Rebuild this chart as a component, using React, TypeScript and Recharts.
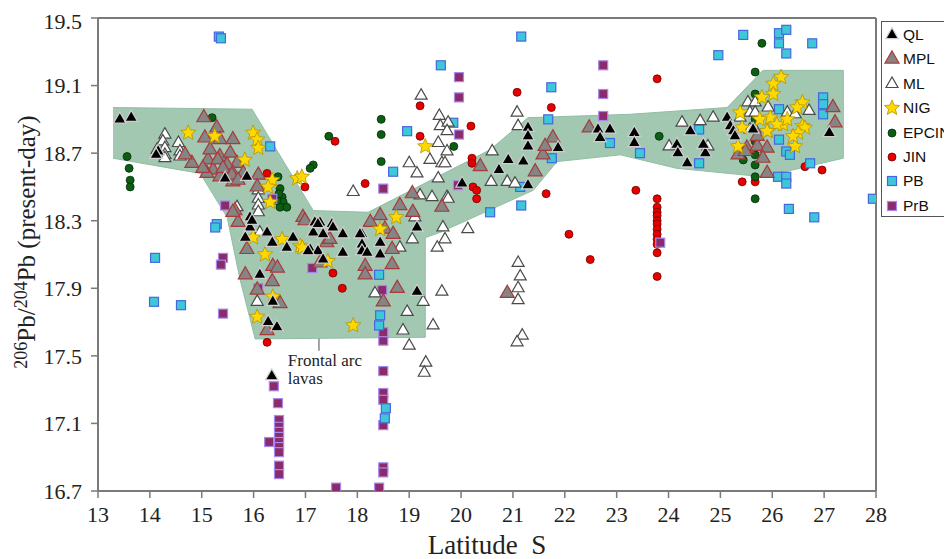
import React from 'react';
import { ScatterChart, Scatter, XAxis, YAxis, ReferenceLine, ReferenceDot } from 'recharts';

// axis ticks
const latTicks = [13, 14, 15, 16, 17, 18, 19, 20, 21, 22, 23, 24, 25, 26, 27, 28];
const pbTicks = [16.7, 17.1, 17.5, 17.9, 18.3, 18.7, 19.1, 19.5];

// outline of the frontal arc lavas field [lat, 206Pb/204Pb]
const frontalArcField = [
  [13.29, 18.97], [15.97, 18.96], [17.15, 18.36], [18.21, 18.35], [20.56, 18.72], [21.29, 18.91],
  [23.26, 18.93], [25.13, 18.97], [25.82, 19.19], [27.37, 19.19], [27.37, 18.67], [25.82, 18.56],
  [24.16, 18.61], [23.07, 18.69], [21.85, 18.65], [21.39, 18.48], [19.59, 18.23], [19.31, 18.2],
  [19.31, 17.61], [16.03, 17.6], [15.74, 17.95], [15.49, 18.32], [14.97, 18.58], [13.29, 18.67],
];

const qlData = [
  [13.42, 18.9], [13.64, 18.91], [14.16, 18.71], [14.12, 18.69],
  [15.45, 18.55], [15.87, 18.56], [15.93, 18.32], [15.93, 18.26], [15.84, 18.2], [16.36, 18.17], [16.76, 18.2],
  [17.18, 18.29], [17.15, 18.23], [17.34, 18.22], [15.97, 18.3], [16.26, 18.23], [16.64, 18.14], [16.12, 17.98],
  [16.28, 17.7], [16.45, 17.67], [16.37, 17.82], [16.35, 17.38],
  [17.28, 18.29], [17.51, 18.28], [17.72, 18.22], [17.09, 18.13], [17.24, 18.12], [17.72, 18.11], [17.34, 18.07],
  [18.09, 18.22], [18.09, 18.16], [18.09, 18.12], [18.19, 18.11], [18.44, 18.1], [18.44, 18.17], [18.05, 18.22],
  [19.15, 18.26], [19.15, 17.88], [17.05, 18.12], [17.24, 18.28], [17.53, 18.26],
  [20.02, 18.52], [20.73, 18.6], [20.91, 18.66], [21.29, 18.85], [21.29, 18.74], [21.2, 18.65], [21.29, 18.51],
  [21.87, 18.73], [22.64, 18.84], [22.87, 18.84], [22.68, 18.79], [21.29, 18.8],
  [23.34, 18.82], [23.34, 18.76], [24.42, 18.83], [24.16, 18.75], [24.18, 18.7], [24.36, 18.64], [24.71, 18.7],
  [24.67, 18.75], [25.13, 18.91], [25.19, 18.86], [25.25, 18.83], [25.28, 18.8], [27.1, 18.82], [25.63, 18.84],
];

const mplData = [
  [15.04, 18.91], [15.29, 18.85], [15.35, 18.78], [15.6, 18.78], [15.06, 18.79], [14.81, 18.64], [14.68, 18.69],
  [15.12, 18.66], [15.35, 18.68], [15.55, 18.7], [15.68, 18.64], [15.49, 18.63], [15.22, 18.6], [15.6, 18.58],
  [15.8, 18.58], [15.1, 18.58], [15.35, 18.56], [15.6, 18.53], [16.09, 18.57], [16.07, 18.5], [15.16, 18.72],
  [15.31, 18.66], [15.02, 18.61], [15.41, 18.61], [15.58, 18.57], [15.7, 18.54], [15.64, 18.36], [15.7, 18.29],
  [16.95, 18.32], [15.6, 18.35], [15.87, 18.13], [15.84, 17.98], [16.37, 18.03], [16.46, 18.02], [16.36, 17.94],
  [16.07, 17.89], [16.26, 17.65], [16.51, 17.81], [16.99, 18.3], [17.41, 18.17], [17.47, 18.19], [17.28, 18.05],
  [19.06, 18.46], [19.63, 18.38], [18.82, 18.39], [19.07, 18.35], [18.44, 18.33], [18.25, 18.29], [18.53, 18.25],
  [18.69, 18.22], [18.67, 18.13], [18.67, 18.04], [18.77, 17.9], [18.5, 17.82], [18.15, 18.03], [18.15, 17.98],
  [20.37, 18.62], [21.43, 18.59], [21.58, 18.69], [21.77, 18.79], [21.62, 18.74], [22.47, 18.85], [20.89, 17.87],
  [27.17, 18.97], [27.21, 18.88], [25.51, 18.73], [25.71, 18.74], [25.9, 18.73], [25.34, 18.69], [25.48, 18.71],
  [25.82, 18.67], [25.9, 18.58], [25.71, 18.8],
];

const mlData = [
  [14.29, 18.81], [14.25, 18.77], [14.29, 18.73], [14.29, 18.69], [14.55, 18.76], [14.58, 18.71], [14.58, 18.68],
  [14.14, 18.72], [14.29, 18.67],
  [16.09, 18.48], [16.09, 18.43], [16.09, 18.39], [15.68, 18.38], [16.09, 18.35], [16.12, 18.23], [16.07, 17.82],
  [17.92, 18.47], [19.21, 18.45], [19.44, 18.44], [19.73, 18.44], [20.13, 18.25], [19.65, 18.26], [19.69, 18.19],
  [19.54, 18.14], [19.11, 18.32], [19.06, 18.19], [18.82, 18.14], [19.63, 17.88], [19.27, 17.82], [18.96, 17.76],
  [18.34, 17.87], [18.88, 17.65], [19.46, 17.68], [19.0, 17.56], [19.32, 17.46], [19.29, 17.4],
  [19.0, 18.64], [19.15, 18.58], [19.4, 18.66], [19.63, 18.64], [19.56, 18.55], [19.75, 18.43],
  [19.23, 19.04], [19.58, 18.92], [19.6, 18.86], [19.75, 18.88], [19.73, 18.83], [19.56, 18.76], [19.73, 18.71],
  [19.69, 18.64],
  [21.08, 18.94], [21.1, 18.86], [20.6, 18.71], [20.58, 18.53], [20.89, 18.53], [21.04, 18.52], [21.1, 18.05],
  [21.14, 17.97], [21.1, 17.9], [21.1, 17.83], [21.18, 17.62], [21.08, 17.58],
  [24.26, 18.88], [24.61, 18.89], [24.86, 18.91], [24.01, 18.74], [24.76, 18.74], [25.53, 19.0], [25.67, 19.0],
  [25.57, 18.94], [25.67, 18.94], [25.38, 18.91], [25.92, 18.97], [26.29, 18.94], [26.44, 18.93], [26.71, 18.95],
  [25.57, 18.84], [25.67, 18.84],
];

const nigData = [
  [14.74, 18.82], [15.99, 18.82], [16.07, 18.78], [16.09, 18.73], [15.83, 18.66], [16.36, 18.54], [16.28, 18.5],
  [16.84, 18.55], [16.32, 18.41], [15.99, 18.2], [16.55, 18.19], [16.22, 18.1], [16.9, 18.15], [16.37, 17.85],
  [16.07, 17.73], [17.92, 17.68], [15.25, 18.8],
  [18.75, 18.32], [18.44, 18.25], [16.94, 18.14], [17.43, 18.06], [19.31, 18.74], [16.93, 18.56],
  [26.17, 19.15], [26.02, 19.11], [26.02, 19.05], [25.8, 19.03], [26.58, 19.0], [26.48, 18.97], [25.96, 18.91],
  [26.21, 18.87], [26.09, 18.87], [26.29, 18.9], [25.92, 18.83], [25.76, 18.9], [26.58, 18.86], [26.63, 18.85],
  [26.5, 18.82], [26.44, 18.74], [25.42, 18.85], [25.34, 18.74], [25.38, 18.94], [25.9, 18.83], [26.4, 18.8],
];

const epcinData = [
  [13.56, 18.68], [13.6, 18.61], [13.62, 18.54], [13.62, 18.5], [15.2, 18.91], [16.47, 18.56], [16.51, 18.49],
  [16.55, 18.44], [16.57, 18.41], [16.51, 18.38], [16.64, 18.38], [16.45, 18.42], [16.49, 18.46], [17.15, 18.63],
  [17.09, 18.61], [17.45, 18.8], [18.46, 18.9], [18.46, 18.81], [18.46, 18.65], [19.86, 18.74],
  [25.8, 19.35], [25.67, 19.18], [25.67, 19.05], [25.67, 18.9], [25.67, 18.77], [25.67, 18.69], [25.67, 18.56],
  [25.67, 18.43], [23.82, 18.8], [25.44, 18.66], [25.67, 18.63],
];

const jinData = [
  [16.26, 18.58], [16.99, 18.5], [17.57, 18.77], [18.15, 18.52], [17.53, 17.99], [17.71, 17.9], [16.26, 17.58],
  [19.21, 18.98], [19.21, 18.8], [20.19, 18.86], [21.08, 19.06], [21.74, 18.97], [20.21, 18.67], [20.21, 18.64],
  [20.23, 18.5], [20.3, 18.48], [20.3, 18.43], [21.64, 18.46], [22.08, 18.22], [22.49, 18.07], [23.37, 18.48],
  [23.78, 19.14], [23.78, 18.43], [23.78, 18.38], [23.78, 18.35], [23.78, 18.33], [23.78, 18.3], [23.78, 18.28],
  [23.78, 18.25], [23.78, 18.22], [23.78, 18.19], [23.78, 18.16], [23.78, 18.11], [23.78, 17.97],
  [25.42, 18.53], [25.67, 18.53], [26.63, 18.62], [26.96, 18.6],
];

const pbData = [
  [15.33, 19.39], [15.37, 19.38], [14.1, 18.08], [14.08, 17.82], [14.6, 17.8], [15.29, 18.28], [15.26, 18.26],
  [16.32, 18.74], [18.42, 17.98], [18.44, 17.74], [18.42, 17.68], [18.55, 17.19], [18.53, 17.13],
  [21.16, 19.39], [19.61, 19.22], [19.85, 18.88], [18.96, 18.83], [18.69, 18.59], [21.74, 19.09], [21.68, 18.9],
  [20.56, 18.35], [21.16, 18.39], [21.14, 18.5], [22.87, 18.76], [21.75, 18.67],
  [25.44, 19.4], [24.96, 19.28], [26.13, 19.41], [26.27, 19.43], [26.13, 19.35], [26.27, 19.29], [26.77, 19.35],
  [26.98, 19.03], [26.98, 18.99], [26.98, 18.93], [26.13, 18.96], [26.13, 18.78], [26.27, 18.71], [26.34, 18.69],
  [24.59, 18.84], [24.59, 18.64], [23.45, 18.7], [26.73, 18.64], [26.11, 18.56], [26.27, 18.56], [26.27, 18.52],
  [26.32, 18.37], [26.81, 18.32], [27.94, 18.43],
];

const prbData = [
  [15.45, 18.39], [16.36, 18.43], [15.41, 18.08], [15.37, 18.04], [15.41, 17.75], [16.09, 17.9], [17.13, 18.02],
  [16.39, 17.32], [16.47, 17.22], [16.49, 17.12], [16.49, 17.08], [16.49, 17.05], [16.49, 17.02], [16.49, 16.99],
  [16.49, 16.96], [16.49, 16.93], [16.49, 16.85], [16.49, 16.8], [16.3, 16.99],
  [18.5, 17.59], [18.5, 17.41], [18.5, 17.28], [18.5, 17.24], [18.5, 17.09], [18.5, 16.84], [18.5, 16.81],
  [17.59, 16.72], [18.42, 16.72], [18.48, 17.89], [18.5, 17.64], [18.5, 18.49],
  [19.96, 19.15], [19.96, 19.03], [19.96, 18.81], [22.74, 19.22], [22.74, 19.05], [22.74, 18.92], [19.94, 18.51],
  [23.84, 18.17],
];

const toPts = (arr: number[][]) => arr.map(([x, y]) => ({ x, y }));

const styles: Record<string, any> = {
  QL: { shape: 'tri', fill: '#000000', stroke: '#cfcfcf', size: 12.5 },
  MPL: { shape: 'tri', fill: '#858585', stroke: '#a83a3a', size: 14 },
  ML: { shape: 'tri', fill: '#ffffff', stroke: '#4a4a4a', size: 12 },
  NIG: { shape: 'star', fill: '#ffd800', stroke: '#b39400', size: 8 },
  EPCIN: { shape: 'circle', fill: '#0b5e14', stroke: '#062c08', size: 4 },
  JIN: { shape: 'circle', fill: '#e80000', stroke: '#6e0000', size: 4 },
  PB: { shape: 'square', fill: '#3ec7d8', stroke: '#4766dd', size: 9 },
  PrB: { shape: 'square', fill: '#8a2b6c', stroke: '#a887ee', size: 9 },
};

const Marker = ({ kind, cx, cy }: any) => {
  const s = styles[kind];
  if (cx == null || cy == null) return <g />;
  if (s.shape === 'tri') {
    const w = s.size;
    const h = w * 0.87;
    const pts = `${cx},${cy - (h * 2) / 3} ${cx - w / 2},${cy + h / 3} ${cx + w / 2},${cy + h / 3}`;
    return <polygon points={pts} fill={s.fill} stroke={s.stroke} strokeWidth={1.2} />;
  }
  if (s.shape === 'star') {
    const R = s.size;
    const r = R * 0.45;
    const pts: string[] = [];
    for (let i = 0; i < 10; i++) {
      const a = -Math.PI / 2 + (i * Math.PI) / 5;
      const rad = i % 2 === 0 ? R : r;
      pts.push(`${cx + rad * Math.cos(a)},${cy + rad * Math.sin(a)}`);
    }
    return <polygon points={pts.join(' ')} fill={s.fill} stroke={s.stroke} strokeWidth={0.8} />;
  }
  if (s.shape === 'circle') {
    return <circle cx={cx} cy={cy} r={s.size} fill={s.fill} stroke={s.stroke} strokeWidth={0.8} />;
  }
  const h = s.size / 2;
  return <rect x={cx - h} y={cy - h} width={s.size} height={s.size} fill={s.fill} stroke={s.stroke} strokeWidth={1.2} />;
};

const series = [
  { name: 'JIN', data: jinData },
  { name: 'EPCIN', data: epcinData },
  { name: 'PrB', data: prbData },
  { name: 'PB', data: pbData },
  { name: 'ML', data: mlData },
  { name: 'MPL', data: mplData },
  { name: 'NIG', data: nigData },
  { name: 'QL', data: qlData },
];

const legendOrder = ['QL', 'MPL', 'ML', 'NIG', 'EPCIN', 'JIN', 'PB', 'PrB'];

const serif = '"Liberation Serif", "Times New Roman", serif';

const YLabel = () => (
  <text transform="translate(27,234) rotate(-90)" textAnchor="middle" fontFamily={serif} fontSize={25} fill="#222">
    <tspan fontSize={18} dy={-8}>206</tspan>
    <tspan dy={8}>Pb/</tspan>
    <tspan fontSize={18} dy={-8}>204</tspan>
    <tspan dy={8}>Pb (present-day)</tspan>
  </text>
);

// two separate lines so they do not share one box
const AnnotationText = ({ cx, cy }: any) => (
  <g fontFamily={serif} fontSize={17} fill="#222">
    <text x={cx} y={cy}>Frontal arc</text>
    <text x={cx} y={cy + 18}>lavas</text>
  </g>
);

const App = () => {
  const axisStroke = '#7a7a7a';
  return (
    <div style={{ position: 'relative', width: 944, height: 551, overflow: 'hidden', background: '#fff' }}>
      <ScatterChart width={944} height={551} margin={{ top: 10, right: 76, bottom: 0, left: 0 }}>
        <XAxis
          type="number"
          dataKey="x"
          domain={[13, 28]}
          ticks={latTicks}
          allowDataOverflow
          height={68}
          tickSize={7}
          tickMargin={8}
          axisLine={{ stroke: axisStroke, strokeWidth: 2 }}
          tickLine={{ stroke: axisStroke, strokeWidth: 1.5 }}
          tick={{ fontFamily: serif, fontSize: 22, fill: '#222' }}
          label={{ value: 'Latitude\u00a0\u00a0S', position: 'insideBottom', offset: 5, fontFamily: serif, fontSize: 27, fill: '#222' }}
        />
        <YAxis
          type="number"
          dataKey="y"
          domain={[16.7, 19.5]}
          ticks={pbTicks}
          allowDataOverflow
          width={90}
          tickSize={7}
          tickMargin={9}
          tickFormatter={(v: number) => v.toFixed(1)}
          axisLine={{ stroke: axisStroke, strokeWidth: 2 }}
          tickLine={{ stroke: axisStroke, strokeWidth: 1.5 }}
          tick={{ fontFamily: serif, fontSize: 22, fill: '#222' }}
          label={{ content: () => <YLabel /> }}
        />
        <ReferenceLine y={19.5} stroke={axisStroke} strokeWidth={2} />
        <ReferenceLine x={28} stroke={axisStroke} strokeWidth={2} />
        <Scatter
          name="field"
          data={toPts(frontalArcField)}
          isAnimationActive={false}
          line={{ fill: '#a2c8b2', stroke: '#90bea3', strokeWidth: 1 }}
          lineType="joint"
          shape={() => <g />}
          fill="#a2c8b2"
        />
        <ReferenceLine
          segment={[{ x: 17.26, y: 17.76 }, { x: 17.26, y: 17.53 }]}
          stroke="#666"
          strokeWidth={1.2}
        />
        <ReferenceDot x={16.66} y={17.44} r={0} shape={(p: any) => <AnnotationText {...p} />} />
        {series.map((s) => (
          <Scatter
            key={s.name}
            name={s.name}
            data={toPts(s.data)}
            isAnimationActive={false}
            shape={(p: any) => <Marker kind={s.name} cx={p.cx} cy={p.cy} />}
          />
        ))}
      </ScatterChart>
      <div
        style={{
          position: 'absolute',
          left: 873,
          top: 13,
          width: 84,
          height: 196,
          border: '1.5px solid #555',
          boxSizing: 'border-box',
          background: '#fff',
          fontFamily: '"Liberation Sans", Arial, sans-serif',
          fontSize: 15.5,
          color: '#111',
        }}
      >
        {legendOrder.map((k, i) => (
          <div key={k} style={{ position: 'absolute', left: 0, top: 1 + i * 24.4, height: 24, display: 'flex', alignItems: 'center' }}>
            <svg width={20} height={20} style={{ marginLeft: 0 }}>
              <Marker kind={k} cx={10} cy={10} />
            </svg>
            <span style={{ marginLeft: 1 }}>{k}</span>
          </div>
        ))}
      </div>
    </div>
  );
};

export default App;
